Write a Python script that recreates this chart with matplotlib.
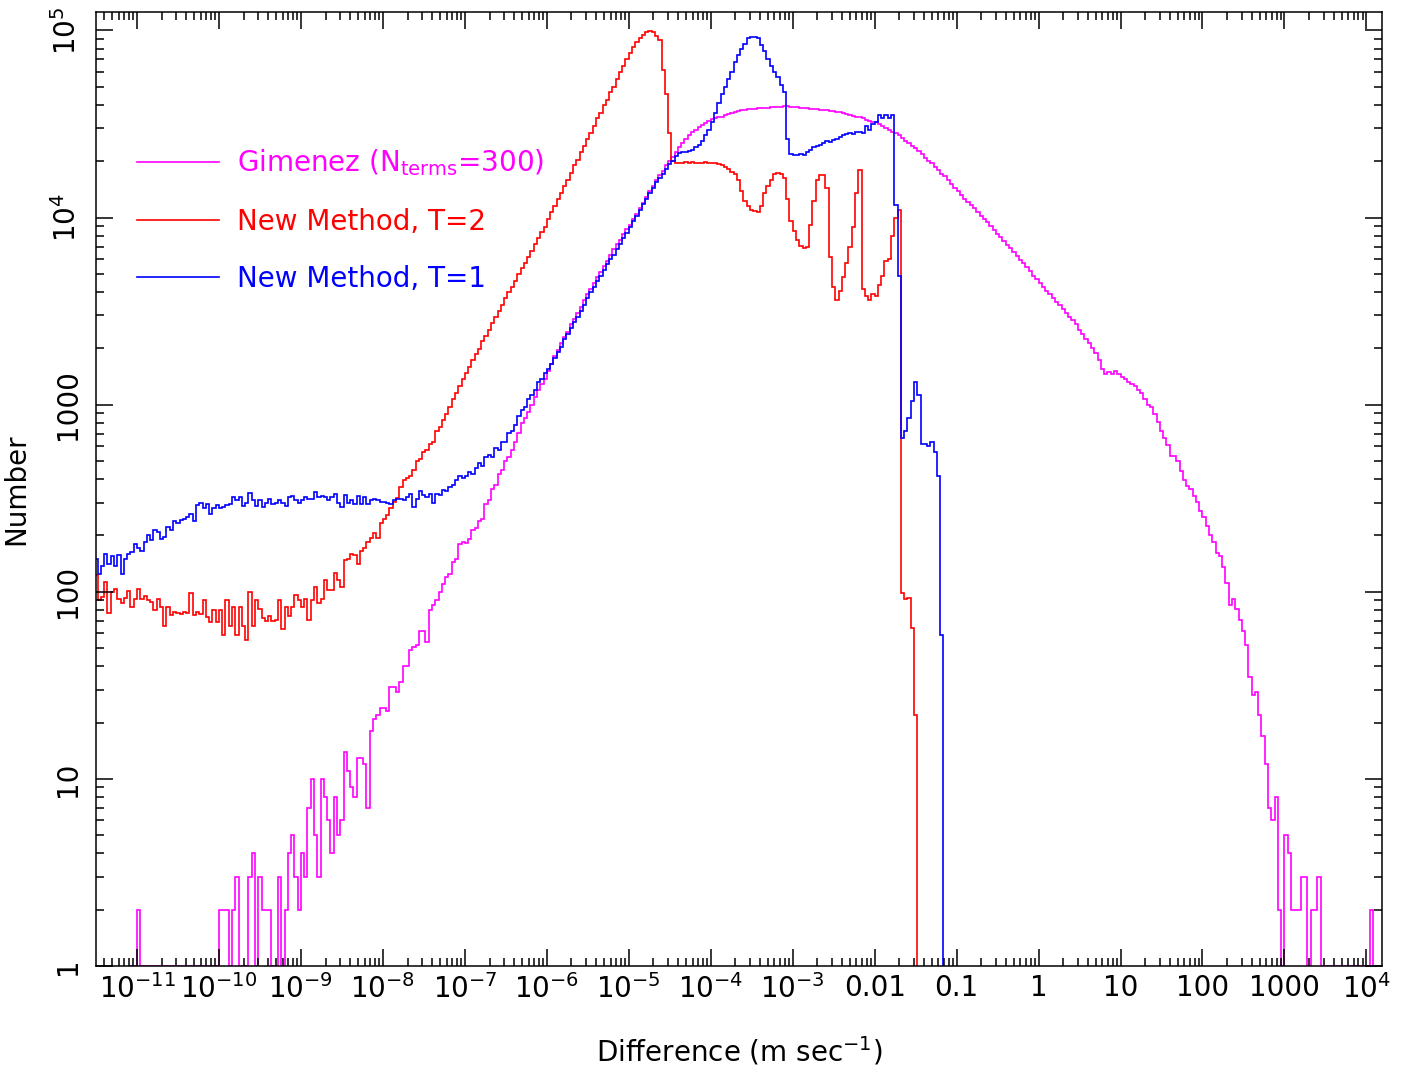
import numpy as np
import matplotlib
matplotlib.use('Agg')
import matplotlib.pyplot as plt
from matplotlib.ticker import FixedLocator, LogLocator, NullFormatter

plt.rcParams['font.family'] = 'DejaVu Sans'
plt.rcParams['mathtext.fontset'] = 'dejavusans'

# histogram bins are 0.04 decades wide in log10(difference)
bin_width = 0.04

# New Method, T=2  (first bin edge at 10^-11.52)
red_start = -11.52
red_counts = [
    123, 90, 94, 113, 77, 100, 104, 92, 87, 93, 101, 83, 92,
    104, 92, 95, 90, 88, 80, 92, 83, 66, 83, 75, 78, 77, 76, 78, 77, 98, 75, 78, 76, 90, 73, 69, 80, 69,
    80, 59, 90, 66, 83, 59, 83, 66, 55, 100, 66, 90, 81, 72, 70, 74, 70, 71, 90, 63, 83, 74, 83, 96, 90,
    83, 92, 71, 90, 106, 87, 92, 115, 102, 102, 126, 115, 106, 147, 150, 160, 157, 140, 165, 172, 184, 195, 205, 195, 233,
    245, 257, 282, 302, 316, 363, 398, 407, 417, 447, 501, 513, 562, 575, 617, 631, 724, 759, 832, 891, 977, 1072, 1148, 1259, 1380,
    1479, 1590, 1730, 1870, 1990, 2200, 2330, 2520, 2740, 2960, 3150, 3400, 3700, 3990, 4250, 4590, 5000, 5380, 5740, 6180, 6600, 7250, 7750, 8330, 8900,
    9770, 10720, 11480, 12590, 13490, 14790, 15850, 17380, 19050, 20420, 22390, 23990, 26300, 28180, 30900, 33880, 36310, 39810, 42660, 46770, 50120, 54950, 60260, 64570, 70790,
    75860, 81280, 87100, 91200, 94400, 97700, 98900, 97700, 93300, 89100, 61700, 45700, 28200, 19950, 19500, 19500, 19500, 19700, 19500, 19700, 19500, 19500, 19500, 19700, 19500,
    19500, 19500, 19280, 19050, 18620, 18200, 17580, 17180, 15850, 13800, 12300, 11480, 10960, 10840, 10720, 11480, 13490, 14790, 15850, 17180, 17380, 17180, 16220, 12590, 9550,
    8510, 7590, 7080, 6840, 6920, 9120, 12300, 15850, 16790, 16790, 14450, 6170, 4270, 3630, 4070, 4790, 5690, 6920, 8910, 13490, 18030, 4170, 3800, 3630, 3890,
    3800, 4370, 4900, 5890, 6030, 7940, 10000, 10960, 98, 91, 93, 64, 22,
]

# New Method, T=1
blue_start = -11.52
blue_counts = [
    150, 125, 137, 160, 140, 155, 138, 158, 125, 150, 160, 163, 180,
    172, 165, 185, 200, 190, 213, 210, 192, 197, 222, 215, 240, 234, 241, 245, 252, 262, 240, 290, 298, 280, 294, 262, 282, 290,
    282, 284, 290, 296, 321, 309, 321, 288, 300, 338, 309, 288, 309, 284, 300, 315, 296, 300, 309, 300, 288, 321, 327, 309, 300,
    309, 321, 315, 315, 340, 321, 325, 321, 309, 321, 332, 300, 285, 330, 300, 309, 296, 327, 296, 321, 296, 309, 315, 309, 302,
    303, 300, 296, 309, 315, 315, 309, 321, 335, 284, 315, 345, 330, 320, 335, 300, 335, 330, 350, 345, 365, 372, 395, 415, 405,
    417, 437, 427, 457, 490, 468, 525, 537, 525, 589, 575, 631, 631, 708, 724, 776, 871, 933, 977, 1072, 1122, 1202, 1318, 1380, 1479,
    1550, 1660, 1780, 1905, 2040, 2240, 2400, 2570, 2750, 2950, 3160, 3390, 3720, 3980, 4270, 4570, 4900, 5250, 5620, 6030, 6310, 6760, 7240, 7760, 8320,
    8910, 9550, 10230, 10960, 11750, 12590, 13490, 14450, 15490, 16220, 17180, 18200, 19280, 19950, 21380, 22130, 22390, 22390, 22650, 22910, 23710, 24550, 25700, 27540, 29510,
    32360, 36310, 40740, 45710, 50120, 54950, 60260, 67610, 74130, 79430, 85110, 91200, 92260, 92260, 91200, 83180, 77620, 70790, 64570, 60260, 56230, 51290, 46770, 26300, 21880,
    21630, 21630, 21880, 21630, 22390, 22910, 23710, 23990, 24550, 25120, 25700, 25410, 26000, 26300, 26920, 27540, 27860, 28180, 27860, 28510, 28840, 28180, 30900, 29510, 31620,
    32360, 35160, 33880, 35480, 33880, 35480, 11610, 4850, 661, 724, 851, 1047, 1318, 1122, 617, 617, 603, 631, 562, 417, 59,
]

# Gimenez (N_terms=300)
mag_start = -11.08
mag_counts = [
    0, 0,
    2, 0, 0, 0, 0, 0, 0, 0, 0, 0, 0, 0, 0, 0, 0, 0, 0, 0, 0, 0, 0, 0, 0, 0, 0,
    2, 2, 2, 0, 2, 3, 0, 0, 0, 3, 4, 0, 3, 2, 2, 2, 0, 0, 3, 0, 2, 4, 5, 3, 2,
    4, 3, 7, 10, 5, 3, 10, 8, 6, 4, 8, 5, 6, 14, 11, 9, 8, 13, 13, 12, 7, 18, 21, 22, 24,
    24, 23, 31, 31, 29, 33, 40, 40, 49, 51, 52, 62, 62, 54, 80, 85, 90, 100, 110, 120, 125, 145, 150, 180, 185,
    182, 191, 214, 219, 240, 245, 295, 309, 355, 372, 427, 447, 501, 525, 575, 631, 708, 794, 851, 912, 1000, 1096, 1202, 1288, 1380,
    1514, 1660, 1820, 1950, 2140, 2290, 2455, 2690, 2880, 3090, 3310, 3630, 3890, 4170, 4470, 4790, 5130, 5500, 5890, 6310, 6760, 7240, 7590, 8130, 8710,
    9120, 9770, 10470, 11220, 12020, 12880, 13800, 14790, 15850, 16790, 17780, 19050, 19950, 21130, 22390, 23710, 25120, 26300, 27540, 28510, 29510, 30550, 31260, 31990, 32730,
    33500, 33880, 34280, 34670, 35320, 35890, 36310, 36730, 37150, 37410, 37670, 37840, 38020, 38190, 38280, 38460, 38550, 38730, 38900, 38990, 39080, 39170, 39260, 39260, 39170,
    39080, 38900, 38730, 38550, 38370, 38190, 38020, 37840, 37760, 37580, 37500, 37330, 37070, 36810, 36480, 36140, 35810, 35480, 35080, 34670, 34280, 33880, 33420, 32960, 32510,
    32360, 31620, 30900, 30200, 29510, 28840, 28180, 27540, 26610, 25700, 25120, 24270, 23440, 22650, 21880, 20890, 20180, 19500, 18620, 17990, 17180, 16600, 15850, 15140, 14450,
    13800, 13180, 12590, 12160, 11610, 11220, 10720, 10230, 9770, 9440, 9020, 8610, 8220, 7850, 7500, 7160, 6840, 6530, 6240, 5960, 5690, 5430, 5190, 4900, 4680,
    4470, 4270, 4070, 3890, 3720, 3550, 3390, 3240, 3090, 2950, 2820, 2690, 2510, 2400, 2240, 2140, 2000, 1880, 1740, 1550, 1460, 1500, 1450, 1510, 1450,
    1410, 1380, 1330, 1290, 1260, 1200, 1150, 1070, 1000, 966, 891, 813, 724, 661, 610, 531, 531, 501, 442, 398, 367, 355, 324, 302, 269,
    251, 224, 200, 184, 162, 155, 135, 112, 85, 91, 81, 71, 62, 52, 35, 28, 29, 22, 17, 12, 7, 6, 8, 2, 0,
    5, 4, 2, 2, 2, 3, 3, 0, 2, 2, 3, 0, 0, 0, 0, 0, 0, 0, 0, 0, 0, 0, 0, 0, 0,
    0, 2, 0, 0, 0,
]

xtick_vals = [1e-11, 1e-10, 1e-9, 1e-8, 1e-7, 1e-6, 1e-5, 1e-4, 1e-3, 0.01, 0.1, 1, 10, 100, 1000, 1e4]
xtick_labels = [r'$10^{-11}$', r'$10^{-10}$', r'$10^{-9}$', r'$10^{-8}$', r'$10^{-7}$', r'$10^{-6}$',
                r'$10^{-5}$', r'$10^{-4}$', r'$10^{-3}$', '0.01', '0.1', '1', '10', '100', '1000', r'$10^4$']
ytick_vals = [1, 10, 100, 1000, 1e4, 1e5]
ytick_labels = ['1', '10', '100', '1000', r'$10^4$', r'$10^5$']


def bin_edges(start, n):
    return 10 ** (start + bin_width * np.arange(n + 1))


fig = plt.figure(figsize=(14.18, 10.73), dpi=100)
ax = fig.add_axes([0.0677, 0.0997, 0.9069, 0.889])

mag = np.array(mag_counts, dtype=float)
ax.stairs(np.where(mag > 0, mag, 1), bin_edges(mag_start, len(mag)), baseline=1,
          color='#ff00ff', lw=1.2, label=r'Gimenez (N$_{\rm terms}$=300)')
ax.stairs(red_counts, bin_edges(red_start, len(red_counts)), baseline=1,
          color='#ff0000', lw=1.2, label='New Method, T=2')
ax.stairs(blue_counts, bin_edges(blue_start, len(blue_counts)), baseline=1,
          color='#0000ff', lw=1.2, label='New Method, T=1')

ax.set_xscale('log')
ax.set_yscale('log')
ax.set_xlim(10 ** -11.5, 10 ** 4.19)
ax.set_ylim(1, 10 ** 5.098)

ax.xaxis.set_major_locator(FixedLocator(xtick_vals))
ax.set_xticklabels(xtick_labels)
ax.xaxis.set_minor_locator(LogLocator(base=10, subs=np.arange(2, 10), numticks=100))
ax.xaxis.set_minor_formatter(NullFormatter())
ax.yaxis.set_major_locator(FixedLocator(ytick_vals))
ax.set_yticklabels(ytick_labels)
ax.yaxis.set_minor_locator(LogLocator(base=10, subs=np.arange(2, 10), numticks=100))
ax.yaxis.set_minor_formatter(NullFormatter())

ax.tick_params(which='both', direction='in', top=True, right=True, width=1.1, colors='black')
ax.tick_params(which='major', length=12, labelsize=20)
ax.tick_params(which='minor', length=6)
ax.tick_params(axis='x', pad=6)
ax.tick_params(axis='y', pad=10)
for lab in ax.get_yticklabels():
    lab.set_rotation(90)
    lab.set_va('center')
for sp in ax.spines.values():
    sp.set_linewidth(1.1)

ax.set_xlabel(r'Difference (m sec$^{-1}$)', fontsize=20, labelpad=22)
ax.set_ylabel('Number', fontsize=20, labelpad=16)

leg = ax.legend(loc='upper left', bbox_to_anchor=(0.032, 0.858), frameon=False,
                fontsize=20, handlelength=2.95, handletextpad=0.65, labelspacing=1.05,
                borderpad=0, borderaxespad=0, labelcolor='linecolor')

fig.savefig('out.png', dpi=100)
